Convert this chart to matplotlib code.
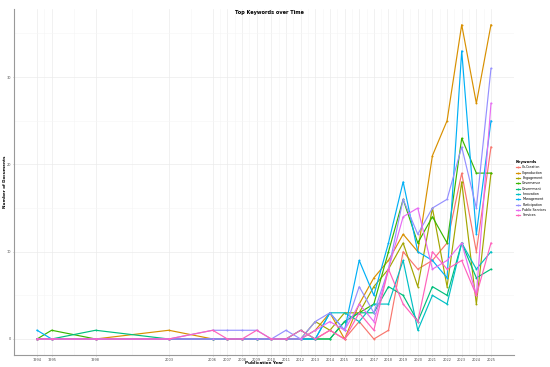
import matplotlib
matplotlib.use("Agg")
import matplotlib.pyplot as plt
import numpy as np

years = [1994, 1995, 1998, 2003, 2006, 2007, 2008, 2009, 2010, 2011, 2012,
         2013, 2014, 2015, 2016, 2017, 2018, 2019, 2020, 2021, 2022, 2023, 2024, 2025]

co_creation     = [0, 0, 0, 0, 0, 0, 0, 0, 0, 0, 0, 0, 1, 0, 2, 0, 1, 10, 8, 9, 11, 19, 10, 22]
coproduction    = [0, 0, 0, 1, 0, 0, 0, 0, 0, 0, 0, 1, 3, 0, 4, 7, 9, 12, 10, 21, 25, 36, 27, 36]
engagement      = [0, 0, 0, 0, 0, 0, 0, 0, 0, 0, 0, 2, 1, 3, 3, 6, 8, 11, 6, 15, 6, 18, 4, 19]
governance      = [0, 1, 0, 0, 0, 0, 0, 0, 0, 0, 0, 0, 0, 2, 3, 4, 10, 16, 11, 14, 11, 23, 19, 19]
government      = [0, 0, 1, 0, 0, 0, 0, 0, 0, 0, 1, 0, 0, 2, 3, 3, 6, 5, 2, 6, 5, 11, 7, 8]
innovation      = [0, 0, 0, 0, 0, 0, 0, 0, 0, 0, 0, 0, 3, 3, 2, 4, 4, 9, 1, 5, 4, 11, 8, 10]
management      = [1, 0, 0, 0, 0, 0, 0, 0, 0, 0, 0, 0, 3, 1, 9, 5, 11, 18, 10, 9, 7, 33, 12, 25]
participation   = [0, 0, 0, 0, 1, 1, 1, 1, 0, 1, 0, 2, 3, 1, 6, 3, 8, 16, 12, 15, 16, 22, 15, 31]
public_services = [0, 0, 0, 0, 0, 0, 0, 0, 0, 0, 0, 1, 2, 1, 4, 2, 8, 14, 15, 8, 9, 11, 5, 27]
services        = [0, 0, 0, 0, 1, 0, 0, 1, 0, 0, 1, 0, 1, 0, 3, 1, 8, 4, 2, 10, 8, 9, 5, 11]

keywords = ["Co-Creation", "Coproduction", "Engagement", "Governance", "Government",
            "Innovation", "Management", "Participation", "Public Services", "Services"]
series = [co_creation, coproduction, engagement, governance, government,
          innovation, management, participation, public_services, services]
colors = ["#F8766D", "#D89000", "#A3A500", "#39B600", "#00BF7D",
          "#00BFC4", "#00B0F6", "#9590FF", "#E76BF3", "#FF62BC"]

fig = plt.figure(figsize=(5.5, 3.67), dpi=100)
ax = fig.add_axes([0.026, 0.0335, 0.908, 0.942])

handles = []
for name, vals, c in zip(keywords, series, colors):
    h, = ax.plot(years, vals, color=c, lw=0.85, marker="o", ms=1.4, mew=0, label=name)
    handles.append(h)

ymax = max(max(s) for s in series)
xr = years[-1] - years[0]
ax.set_xlim(years[0] - 0.05 * xr, years[-1] + 0.05 * xr)
ax.set_ylim(-0.05 * ymax, ymax * 1.05)

ax.set_xticks(years)
ax.set_xticklabels([str(y) for y in years], fontsize=2.5)
mids = [(a + b) / 2 for a, b in zip(years[:-1], years[1:])]
ax.set_xticks(mids, minor=True)
ax.set_yticks([0, 10, 20, 30])
ax.set_yticklabels(["0", "10", "20", "30"], fontsize=2.5)
ax.set_yticks([5, 15, 25, 35], minor=True)

ax.grid(which="major", color="#ebebeb", lw=0.5)
ax.grid(which="minor", color="#f5f5f5", lw=0.4)
ax.set_axisbelow(True)
ax.tick_params(which="both", length=0, pad=1.2, colors="#4d4d4d")
ax.tick_params(which="major", length=1.0, width=0.4, color="#999999")

for s in ["top", "right"]:
    ax.spines[s].set_visible(False)
for s in ["left", "bottom"]:
    ax.spines[s].set_color("#999999")
    ax.spines[s].set_linewidth(0.8)

ax.set_xlabel("Publication Year", fontsize=3.0, fontweight="bold")
ax.xaxis.set_label_coords(0.5, -0.023)
ax.xaxis.label.set_va("center")
ax.set_ylabel("Number of Documents", fontsize=3.0, fontweight="bold")
ax.yaxis.set_label_coords(-0.0186, 0.5)
ax.yaxis.label.set_va("center")
fig.text(0.489, 0.967, "Top Keywords over Time", fontsize=3.6, fontweight="bold",
         ha="center", va="center")

leg = ax.legend(handles=handles, title="Keywords", loc="center left",
                bbox_to_anchor=(1.0, 0.48), frameon=False, fontsize=2.3,
                title_fontsize=2.8, handlelength=1.4, handletextpad=0.6,
                labelspacing=0.42, markerscale=1.0, borderpad=0.2)
leg._legend_box.align = "left"
leg.get_title().set_fontweight("bold")

fig.savefig("out.png", dpi=100)
